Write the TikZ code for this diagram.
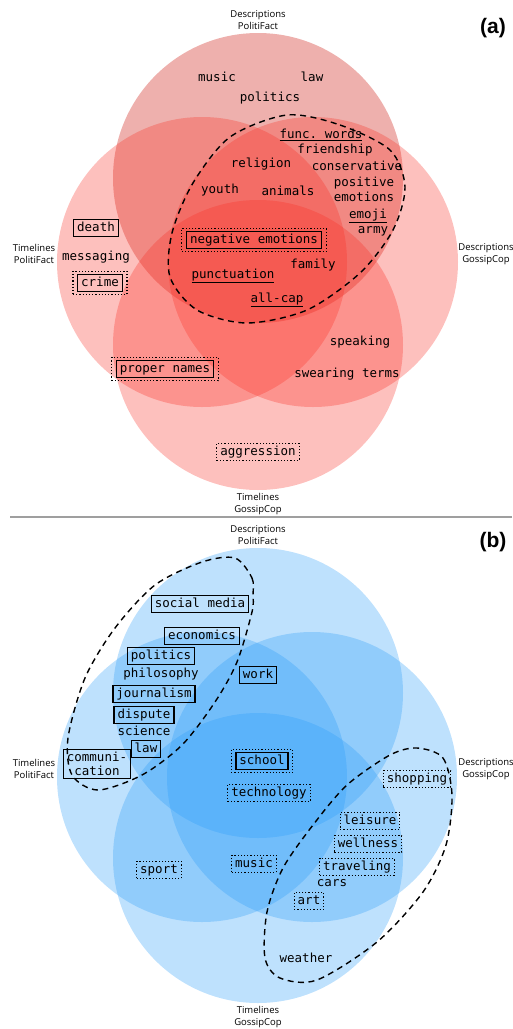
\documentclass[tikz,border=0pt]{standalone}
\usepackage{fontspec}
\setmonofont{DejaVu Sans Mono}
\newfontfamily\setfont{Open Sans}
\newfontfamily\panelfont{Liberation Sans}
\usepackage{tikz}
\usetikzlibrary{positioning,fit}

\definecolor{redset}{RGB}{250,45,35}
\definecolor{redtop}{RGB}{205,30,20}
\definecolor{blueset}{RGB}{40,155,248}

\begin{document}
\begin{tikzpicture}[x=1pt,y=-1pt,
  word/.style={font=\fontsize{12.5}{14}\selectfont\ttfamily,inner xsep=3.5pt,inner ysep=2.5pt,text height=9.5pt,text depth=2.6pt},
  boxed/.style={word,draw,line width=1.4pt},
  dotbox/.style={word,draw,dotted,line width=1.2pt},
  outerdots/.style={draw,dotted,line width=1.2pt,inner xsep=4pt,inner ysep=2.5pt},
  setlabel/.style={font=\fontsize{9.5}{12.5}\selectfont\setfont,align=center,inner sep=0pt},
  panel/.style={font=\fontsize{21}{21}\selectfont\panelfont\bfseries,inner sep=0pt},
  group/.style={draw,line width=1.4pt,dash pattern=on 6pt off 4.5pt}]
\clip (0,0) rectangle (512,1029);

% (a) sets
\fill[redtop,fill opacity=.35] (258,178) circle (145);
\fill[redset,fill opacity=.3] (202,262) circle (145);
\fill[redset,fill opacity=.3] (313,262) circle (145);
\fill[redset,fill opacity=.3] (258,345) circle (145);
\draw[group] plot[smooth cycle] coordinates {(287,115) (340,125) (390,150) (405,187) (393,230) (360,273) (307,310) (247,323) (197,310) (170,277) (172,233) (193,183) (230,137)};

\node[setlabel] (dpa) at (258,20) {Descriptions\\PolitiFact};
\node[setlabel] (tpa) at (34,254) {Timelines\\PolitiFact};
\node[setlabel] (dga) at (486,254) {Descriptions\\GossipCop};
\node[setlabel] (tga) at (258,504) {Timelines\\GossipCop};
\node[panel] (pa) at (493,28) {(a)};

\node[word] (musica) at (217,78) {music};
\node[word] (lawa) at (312,78) {law};
\node[word] (politicsa) at (270,98) {politics};
\node[word] (func) at (321,135) {\underline{func. words}};
\node[word] (friend) at (335,150) {friendship};
\node[word] (relig) at (261,164) {religion};
\node[word] (conserv) at (357,167) {conservative};
\node[word] (youth) at (220,190) {youth};
\node[word] (animals) at (288,192) {animals};
\node[word] (positive) at (364,183) {positive};
\node[word,below=-2pt of positive] (posemo) {emotions};
\node[word] (emoji) at (368,215) {\underline{emoji}};
\node[word] (army) at (373,230) {army};
\node[boxed] (death) at (96,228) {death};
\node[word,below=11pt of death] (messag) {messaging};
\node[boxed] (negemo) at (254,240) {negative emotions};
\node[outerdots,fit=(negemo)] (negemodots) {};
\node[boxed] (crime) at (100,283) {crime};
\node[outerdots,fit=(crime)] (crimedots) {};
\node[word] (family) at (313,265) {family};
\node[word] (punct) at (233,275) {\underline{punctuation}};
\node[word] (allcap) at (277,299) {\underline{all-cap}};
\node[word] (speak) at (360,342) {speaking};
\node[word] (swear) at (347,374) {swearing terms};
\node[boxed] (proper) at (165,369) {proper names};
\node[outerdots,fit=(proper)] (properdots) {};
\node[dotbox] (aggr) at (258,452) {aggression};

\draw[gray!75,line width=1.5pt] (10,517) -- (512,517);

% (b) sets
\fill[blueset,fill opacity=.3] (258,693) circle (145);
\fill[blueset,fill opacity=.3] (202,777) circle (145);
\fill[blueset,fill opacity=.3] (312,777) circle (145);
\fill[blueset,fill opacity=.3] (258,858) circle (145);
\draw[group] plot[smooth cycle] coordinates {(235,558) (252,578) (253,595) (252,612) (237,662) (215,702) (182,745) (142,775) (98,790) (72,775) (68,738) (85,678) (115,628) (155,585) (202,562)};
\draw[group] plot[smooth cycle] coordinates {(417,748) (443,758) (452,795) (446,845) (423,892) (377,942) (317,980) (280,978) (265,958) (267,912) (283,868) (313,825) (347,785) (390,755)};

\node[setlabel] (dpb) at (258,535) {Descriptions\\PolitiFact};
\node[setlabel] (tpb) at (34,769) {Timelines\\PolitiFact};
\node[setlabel] (dgb) at (486,769) {Descriptions\\GossipCop};
\node[setlabel] (tgb) at (258,1017) {Timelines\\GossipCop};
\node[panel] (pb) at (493,542) {(b)};

\node[boxed] (social) at (200,604) {social media};
\node[boxed] (econ) at (202,636) {economics};
\node[boxed] (politicsb) at (161,656) {politics};
\node[word,below=0pt of politicsb] (philo) {philosophy};
\node[boxed] (work) at (258,675) {work};
\node[boxed] (journ) at (154,694) {journalism};
\node[boxed] (dispute) at (144,715) {dispute};
\node[word,below=-1pt of dispute] (science) {science};
\node[boxed] (lawb) at (146,749) {law};
\node[boxed,text height=,text depth=,align=center] (commun) at (97,764) {communi-\\cation};
\node[boxed] (school) at (262,761) {school};
\node[outerdots,fit=(school)] (schooldots) {};
\node[dotbox] (tech) at (269,793) {technology};
\node[dotbox] (shop) at (417,779) {shopping};
\node[dotbox] (leisure) at (370,821) {leisure};
\node[dotbox] (well) at (368,844) {wellness};
\node[dotbox] (travel) at (357,867) {traveling};
\node[word] (cars) at (332,883) {cars};
\node[dotbox] (art) at (309,901) {art};
\node[dotbox] (sport) at (159,870) {sport};
\node[dotbox] (musicb) at (254,864) {music};
\node[word] (weather) at (306,959) {weather};
\end{tikzpicture}
\end{document}
